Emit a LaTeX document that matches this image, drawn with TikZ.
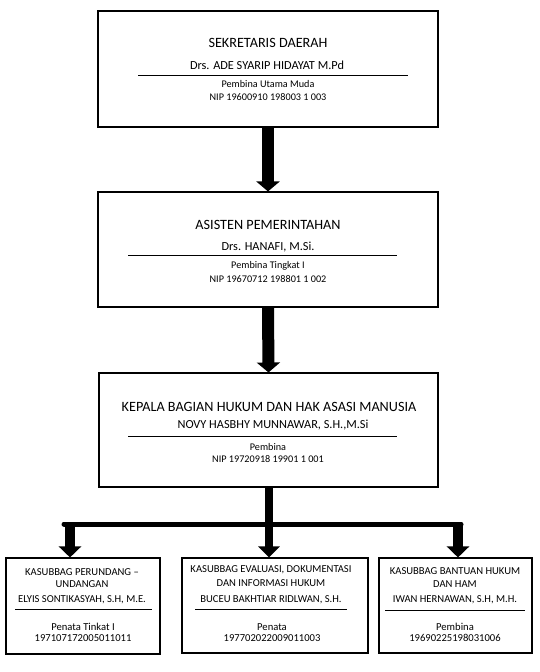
\documentclass[tikz,border=0pt]{standalone}
\usepackage{fontspec}
\setmainfont{Carlito}
\usetikzlibrary{arrows.meta}
\tikzset{
  box/.style={draw=black, line width=1.1pt, inner sep=0pt},
  ttl/.style={font=\fontsize{14.2}{16}\selectfont, inner sep=0pt, anchor=center},
  nm/.style={font=\fontsize{12.3}{14}\selectfont, inner sep=0pt, anchor=center},
  sm/.style={font=\fontsize{10.2}{12}\selectfont, inner sep=0pt, anchor=center},
  bt/.style={font=\fontsize{10.6}{12}\selectfont, inner sep=0pt, anchor=center},
  uline/.style={line width=1pt},
  bigarrow/.style={line width=12pt, -{Triangle[length=10pt,width=23pt]}},
  subarrow/.style={line width=10pt, -{Triangle[length=11pt,width=22pt]}},
}
\begin{document}
\begin{tikzpicture}[x=1pt,y=-1pt]
\useasboundingbox (0,0) rectangle (540,672);
% main boxes
\node[box, minimum width=340pt, minimum height=116pt] (b1) at (268,69) {};
\node[box, minimum width=340pt, minimum height=115pt] (b2) at (268,249.5) {};
\node[box, minimum width=339pt, minimum height=114pt] (b3) at (268.5,430) {};
% sub boxes
\node[box, minimum width=154pt, minimum height=96pt] (b4) at (83,606) {};
\node[box, minimum width=186pt, minimum height=95pt] (b5) at (275,605.5) {};
\node[box, minimum width=153pt, minimum height=95pt] (b6) at (455.5,605.5) {};

% box 1 texts
\node[ttl] (t1) at (268,43) {SEKRETARIS DAERAH};
\node[nm] (n1) at (267,65) {Drs. ADE SYARIP HIDAYAT M.Pd};
\draw[uline] (138,75) -- (408,75);
\node[sm] (p1) at (268,84) {Pembina Utama Muda};
\node[sm] (i1) at (268,97) {NIP 19600910 198003 1 003};

% box 2 texts
\node[ttl] (t2) at (268,225) {ASISTEN PEMERINTAHAN};
\node[nm] (n2) at (268,247) {Drs. HANAFI, M.Si.};
\draw[uline] (128,255) -- (397,255);
\node[sm] (p2) at (268,266) {Pembina Tingkat I};
\node[sm] (i2) at (268,279) {NIP 19670712 198801 1 002};

% box 3 texts
\node[ttl] (t3) at (269,407) {KEPALA BAGIAN HUKUM DAN HAK ASASI MANUSIA};
\node[nm] (n3) at (273,425) {NOVY HASBHY MUNNAWAR, S.H.,M.Si};
\draw[uline] (128,436) -- (397,436);
\node[sm] (p3) at (268,447) {Pembina};
\node[sm] (i3) at (268,459) {NIP 19720918 19901 1 001};

% box 4 texts
\node[bt] (t4a) at (82,572) {KASUBBAG PERUNDANG –};
\node[bt] (t4b) at (82,584) {UNDANGAN};
\node[bt] (n4) at (82,600) {ELYIS SONTIKASYAH, S.H, M.E.};
\draw[uline] (15,609) -- (152,609);
\node[bt] (p4) at (83,627) {Penata Tinkat I};
\node[bt] (i4) at (83,638) {197107172005011011};

% box 5 texts
\node[bt] (t5a) at (271,570) {KASUBBAG EVALUASI, DOKUMENTASI};
\node[bt] (t5b) at (271,583) {DAN INFORMASI HUKUM};
\node[bt] (n5) at (271,600) {BUCEU BAKHTIAR RIDLWAN, S.H.};
\draw[uline] (195,609) -- (347,609);
\node[bt] (p5) at (272,627) {Penata};
\node[bt] (i5) at (272,638) {197702022009011003};

% box 6 texts
\node[bt] (t6a) at (455,571) {KASUBBAG BANTUAN HUKUM};
\node[bt] (t6b) at (455,584) {DAN HAM};
\node[bt] (n6) at (455,600) {IWAN HERNAWAN, S.H, M.H.};
\draw[uline] (385,610) -- (525,610);
\node[bt] (p6) at (455,627) {Pembina};
\node[bt] (i6) at (455,638) {19690225198031006};

% connectors between main boxes
\draw[bigarrow] (b1.south) -- (b2.north);
\draw[bigarrow] (b2.south) -- (b3.north);

% branch
\coordinate (jn) at (269,524);
\coordinate (jl) at (70,524);
\coordinate (jr) at (458,524);
\draw[line width=8pt] (b3.south -| jn) -- (jn);
\draw[line width=5pt, line cap=round] (64,524) -- (461,524);
\draw[subarrow] (jl) -- (b4.north -| jl);
\draw[line width=8pt, -{Triangle[length=11pt,width=21pt]}] (jn) -- (b5.north -| jn);
\draw[subarrow] (jr) -- (b6.north -| jr);
\end{tikzpicture}
\end{document}
